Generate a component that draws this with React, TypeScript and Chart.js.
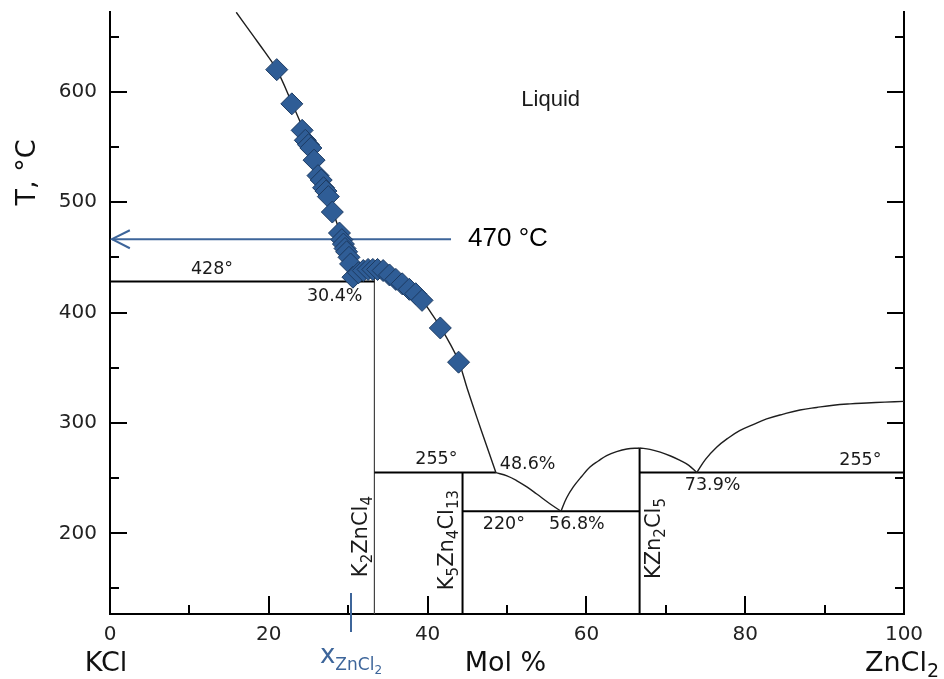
import React, { useEffect, useRef } from 'react';
import { Chart, registerables } from 'chart.js';

Chart.register(...registerables);

// ---- axis ranges / ticks ----
const Y_MIN = 126.9;
const Y_MAX = 672.2;
const xMajorTicks = [0, 20, 40, 60, 80, 100];
const xMinorTicks = [10, 30, 50, 70, 90];
const yMajorTicks = [200, 300, 400, 500, 600];
const yMinorTicks = [150, 250, 350, 450, 550, 650];

// ---- measured liquidus data (diamonds) ----
const markerX = [21.0, 22.9, 24.2, 24.6, 25.0, 25.3, 25.7, 26.2, 26.6, 26.9, 27.2, 27.5, 28.0, 28.9, 29.2, 29.4, 29.6, 29.8, 30.1, 30.3, 30.6, 31.3, 31.9, 32.5, 33.1, 33.7, 34.4, 35.2, 36.0, 36.8, 37.7, 38.5, 39.3, 41.6, 43.9];
const markerT = [620, 589, 565, 556, 552, 549, 538, 524, 520, 513, 510, 505, 491, 472, 466, 462, 458, 455, 450, 444, 432, 436, 438, 439, 439, 439, 438, 434, 430, 426, 421, 417, 411, 386, 355];

// ---- liquidus curve segments ----
const liqKClX = [15.9, 18.0, 19.5, 21.0, 22.9, 24.4, 25.8, 27.2, 28.3, 29.3, 30.0, 30.4];
const liqKClT = [672, 651, 636, 620, 590, 565, 540, 511, 487, 465, 447, 428];
const liqK2X = [30.4, 31.0, 32.0, 33.3, 34.5, 36.0, 37.5, 39.0, 40.5, 41.6, 42.8, 43.9, 45.0, 46.2, 47.4, 48.6];
const liqK2T = [428, 432.5, 434.5, 435, 434, 430, 424, 414, 399, 387, 372, 356, 331, 305, 280, 255];
const liqK5X = [48.6, 50.0, 51.2, 52.5, 53.7, 55.4, 56.8];
const liqK5T = [255, 252, 247.8, 242, 235.8, 226.8, 220];
const liqKZnAX = [56.8, 57.5, 58.35, 59.4, 60.45, 61.5, 62.55, 63.8, 65.1, 66.7];
const liqKZnAT = [220, 232, 242, 251.5, 260, 265.5, 270.4, 274, 276.4, 277.3];
const liqKZnBX = [66.7, 68.0, 69.3, 70.6, 71.8, 72.9, 73.9];
const liqKZnBT = [277.3, 276, 273.5, 270, 266, 261.5, 255];
const liqZnX = [73.9, 75.0, 76.4, 77.8, 79.3, 81.0, 82.7, 84.8, 86.9, 89.0, 91.1, 93.2, 95.3, 97.6, 100];
const liqZnT = [255, 267, 278, 286, 293, 298.5, 303.6, 308, 311.7, 314, 316, 317.2, 318, 318.8, 319.5];

// ---- invariant lines ----
const eutecticLines = [
  { x1: 0, x2: 33.3, t: 428 },
  { x1: 33.3, x2: 48.6, t: 255 },
  { x1: 44.4, x2: 66.7, t: 220 },
  { x1: 66.7, x2: 100, t: 255 },
];
const compoundX = [33.3, 44.4, 66.7];
const compoundTop = [435, 255, 277.3];

// ---- arrow (470 °C) ----
const arrowT = 466.4;
const arrowX = [0.25, 42.95];

// ---- annotations ----
const phaseLabels = [
  { text: '428°', x: 12.85, t: 439.3 },
  { text: '30.4%', x: 28.3, t: 414.4 },
  { text: '255°', x: 41.1, t: 266.8 },
  { text: '48.6%', x: 52.6, t: 262.3 },
  { text: '220°', x: 49.6, t: 208 },
  { text: '56.8%', x: 58.8, t: 208 },
  { text: '73.9%', x: 75.9, t: 242.9 },
  { text: '255°', x: 94.5, t: 266.4 },
];
const compoundLabels = [
  { text: 'K2ZnCl4', x: 32.4, t: 160.3 },
  { text: 'K5Zn4Cl13', x: 43.2, t: 148.5 },
  { text: 'KZn2Cl5', x: 69.3, t: 158.5 },
];
const liquidLabel = { text: 'Liquid', x: 55.5, t: 592.8 };
const tempLabel = { text: '470 °C', x: 45.1, t: 466.4 };
const xMarkValue = 30.4;

const FAMILY = '"DejaVu Sans"';
const BLUE = '#3d659a';

function splitFormula(s: string) {
  const parts: { t: string; sub: boolean }[] = [];
  const re = /(\d+|[^\d]+)/g;
  let m: RegExpExecArray | null;
  while ((m = re.exec(s))) parts.push({ t: m[0], sub: /^\d/.test(m[0]) });
  return parts;
}

function formulaWidth(ctx: CanvasRenderingContext2D, s: string, size: number, subSize: number) {
  let w = 0;
  for (const p of splitFormula(s)) {
    ctx.font = `${p.sub ? subSize : size}px ${FAMILY}`;
    w += ctx.measureText(p.t).width;
  }
  return w;
}

function drawFormula(ctx: CanvasRenderingContext2D, s: string, x0: number, y0: number, size: number, subSize: number, shift: number) {
  let x = x0;
  for (const p of splitFormula(s)) {
    ctx.font = `${p.sub ? subSize : size}px ${FAMILY}`;
    ctx.fillText(p.t, x, y0 + (p.sub ? shift : 0));
    x += ctx.measureText(p.t).width;
  }
}

const overlay = {
  id: 'overlay',
  afterDraw(chart: any) {
    const { ctx, chartArea: ca } = chart;
    const xs = chart.scales.x;
    const ys = chart.scales.y;
    ctx.save();
    // tick marks (inward)
    ctx.strokeStyle = '#000';
    ctx.lineWidth = 2;
    const line = (a: number, b: number, c: number, d: number) => {
      ctx.beginPath();
      ctx.moveTo(a, b);
      ctx.lineTo(c, d);
      ctx.stroke();
    };
    for (const v of yMajorTicks) {
      const py = Math.round(ys.getPixelForValue(v));
      line(ca.left, py, ca.left + 17, py);
      line(ca.right, py, ca.right - 17, py);
    }
    for (const v of yMinorTicks) {
      const py = Math.round(ys.getPixelForValue(v));
      line(ca.left, py, ca.left + 9, py);
      line(ca.right, py, ca.right - 9, py);
    }
    for (const v of xMajorTicks) {
      const px = Math.round(xs.getPixelForValue(v));
      line(px, ca.bottom, px, ca.bottom - 18);
    }
    for (const v of xMinorTicks) {
      const px = Math.round(xs.getPixelForValue(v));
      line(px, ca.bottom, px, ca.bottom - 9);
    }
    // blue composition mark
    ctx.strokeStyle = BLUE;
    const mx = Math.round(xs.getPixelForValue(xMarkValue));
    line(mx, ca.bottom - 21, mx, ca.bottom + 18);

    // phase labels
    ctx.fillStyle = '#1a1a1a';
    ctx.textAlign = 'center';
    ctx.textBaseline = 'middle';
    ctx.font = `17.5px ${FAMILY}`;
    for (const l of phaseLabels) {
      ctx.fillText(l.text, xs.getPixelForValue(l.x), ys.getPixelForValue(l.t));
    }
    ctx.font = '22px "Liberation Sans"';
    ctx.fillText(liquidLabel.text, xs.getPixelForValue(liquidLabel.x), ys.getPixelForValue(liquidLabel.t));
    ctx.textAlign = 'left';
    ctx.fillStyle = '#000';
    ctx.font = '26px "Liberation Sans"';
    ctx.fillText(tempLabel.text, xs.getPixelForValue(tempLabel.x), ys.getPixelForValue(tempLabel.t));

    // compound labels (rotated)
    ctx.fillStyle = '#1a1a1a';
    ctx.textBaseline = 'alphabetic';
    for (const c of compoundLabels) {
      ctx.save();
      ctx.translate(xs.getPixelForValue(c.x), ys.getPixelForValue(c.t));
      ctx.rotate(-Math.PI / 2);
      drawFormula(ctx, c.text, 0, 0, 21, 15, 5);
      ctx.restore();
    }

    // y axis title
    ctx.save();
    ctx.translate(35, ca.top + 160.5);
    ctx.rotate(-Math.PI / 2);
    ctx.textAlign = 'center';
    ctx.font = `27px ${FAMILY}`;
    ctx.fillStyle = '#111';
    ctx.fillText('T, °C', 0, 0);
    ctx.restore();

    // bottom labels
    const base = ca.bottom + 57;
    ctx.fillStyle = '#111';
    ctx.textAlign = 'left';
    const bottomLabels = [
      { text: 'KCl', x: -0.5 },
      { text: 'Mol %', x: 49.8 },
      { text: 'ZnCl2', x: 99.75 },
    ];
    for (const b of bottomLabels) {
      const w = formulaWidth(ctx, b.text, 27, 19);
      drawFormula(ctx, b.text, xs.getPixelForValue(b.x) - w / 2, base, 27, 19, 6);
    }
    // x_ZnCl2 (blue)
    ctx.fillStyle = BLUE;
    ctx.font = `26px ${FAMILY}`;
    const wx = ctx.measureText('x').width;
    ctx.font = `17px ${FAMILY}`;
    const wz = ctx.measureText('ZnCl').width;
    ctx.font = `12px ${FAMILY}`;
    const w2 = ctx.measureText('2').width;
    const total = wx + wz + w2;
    let cx = mx - total / 2;
    const xb = ca.bottom + 49;
    ctx.font = `26px ${FAMILY}`;
    ctx.fillText('x', cx, xb);
    cx += wx;
    ctx.font = `17px ${FAMILY}`;
    ctx.fillText('ZnCl', cx, xb + 7);
    cx += wz;
    ctx.font = `12px ${FAMILY}`;
    ctx.fillText('2', cx, xb + 11);
    ctx.restore();
  },
};

const pts = (xs: number[], ts: number[]) => xs.map((v, i) => ({ x: v, y: ts[i] }));
const lineDS = (data: any[], width: number, color: string, tension = 0) => ({
  data,
  showLine: true,
  borderColor: color,
  backgroundColor: color,
  borderWidth: width,
  pointRadius: 0,
  pointHoverRadius: 0,
  tension,
  fill: false,
});

const zeroPad = (s: any) => {
  s.paddingTop = 0;
  s.paddingBottom = 0;
  s.paddingLeft = 0;
  s.paddingRight = 0;
};

export default function App() {
  const ref = useRef<HTMLCanvasElement | null>(null);
  useEffect(() => {
    if (!ref.current) return;
    const curveColor = '#1e1e1e';
    const datasets: any[] = [
      {
        data: pts(markerX, markerT),
        pointStyle: 'rectRot',
        pointRadius: 11,
        pointHoverRadius: 11,
        backgroundColor: '#2f5d96',
        borderColor: '#1d3b62',
        borderWidth: 1,
        showLine: false,
      },
      lineDS(pts(arrowX, [arrowT, arrowT]), 2, BLUE),
      lineDS(pts([2.5, arrowX[0], 2.5], [474.5, arrowT, 458.2]), 2, BLUE),
      lineDS(pts(liqKClX, liqKClT), 1.4, curveColor, 0.4),
      lineDS(pts(liqK2X, liqK2T), 1.4, curveColor, 0.4),
      lineDS(pts(liqK5X, liqK5T), 1.4, curveColor, 0.4),
      lineDS(pts(liqKZnAX, liqKZnAT), 1.4, curveColor, 0.4),
      lineDS(pts(liqKZnBX, liqKZnBT), 1.4, curveColor, 0.4),
      lineDS(pts(liqZnX, liqZnT), 1.4, curveColor, 0.4),
    ];
    for (const e of eutecticLines) datasets.push(lineDS(pts([e.x1, e.x2], [e.t, e.t]), 2, '#000'));
    compoundX.forEach((cx, i) => {
      datasets.push(lineDS(pts([cx, cx], [compoundTop[i], Y_MIN]), i === 0 ? 1.2 : 2, i === 0 ? '#444' : '#000'));
    });

    const tickFont = { family: 'DejaVu Sans', size: 20 };
    const chart = new Chart(ref.current, {
      type: 'scatter',
      data: { datasets },
      plugins: [overlay],
      options: {
        animation: false,
        responsive: true,
        maintainAspectRatio: false,
        events: [],
        layout: { padding: { top: 10, left: 0, right: 0, bottom: 0 } },
        plugins: { legend: { display: false }, tooltip: { enabled: false } },
        scales: {
          x: {
            type: 'linear',
            min: 0,
            max: 100,
            position: 'bottom',
            afterBuildTicks: (s: any) => {
              s.ticks = xMajorTicks.map((v) => ({ value: v }));
            },
            ticks: { font: tickFont, color: '#222', padding: 9, maxRotation: 0, autoSkip: false },
            grid: { display: false, drawTicks: false },
            border: { display: true, color: '#000', width: 2 },
            afterFit: (s: any) => {
              s.height = 65;
              zeroPad(s);
            },
          },
          y: {
            type: 'linear',
            min: Y_MIN,
            max: Y_MAX,
            position: 'left',
            afterBuildTicks: (s: any) => {
              s.ticks = yMajorTicks.map((v) => ({ value: v }));
            },
            ticks: { font: tickFont, color: '#222', padding: 13, autoSkip: false },
            grid: { display: false, drawTicks: false },
            border: { display: true, color: '#000', width: 2 },
            afterFit: (s: any) => {
              s.width = 110;
              zeroPad(s);
            },
          },
          y2: {
            type: 'linear',
            min: Y_MIN,
            max: Y_MAX,
            position: 'right',
            ticks: { display: false },
            grid: { display: false, drawTicks: false },
            border: { display: true, color: '#000', width: 2 },
            afterFit: (s: any) => {
              s.width = 40;
              zeroPad(s);
            },
          },
        },
      } as any,
    });
    return () => chart.destroy();
  }, []);

  return (
    <div style={{ position: 'fixed', left: 0, top: 0, width: 944, height: 679, background: '#fff' }}>
      <canvas ref={ref} />
    </div>
  );
}
